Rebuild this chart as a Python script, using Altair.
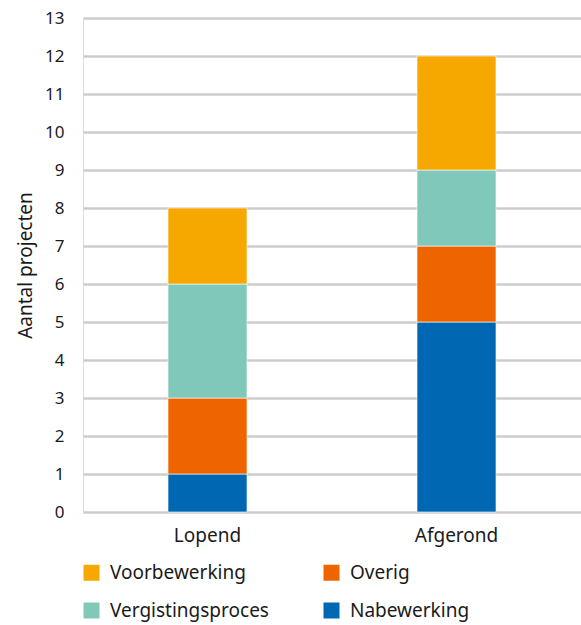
import altair as alt
import pandas as pd

# Project counts per phase, split by process step
statuses = ["Lopend", "Afgerond"]
steps = ["Nabewerking", "Overig", "Vergistingsproces", "Voorbewerking"]
lopend = [1, 2, 3, 2]
afgerond = [5, 2, 2, 3]

# Legend entries fill column by column
legend_order = ["Voorbewerking", "Vergistingsproces", "Overig", "Nabewerking"]
colors = {
    "Voorbewerking": "#F7A800",
    "Overig": "#EE6500",
    "Vergistingsproces": "#7FC8BA",
    "Nabewerking": "#0067B2",
}

rows = []
for status, values in zip(statuses, [lopend, afgerond]):
    for i, (step, v) in enumerate(zip(steps, values)):
        rows.append({"status": status, "stap": step, "aantal": v, "volgorde": i})
df = pd.DataFrame(rows)

FONT = "Noto Sans"

chart = (
    alt.Chart(df)
    .mark_bar(size=79, stroke="white", strokeWidth=0.6)
    .encode(
        x=alt.X(
            "status:N",
            sort=statuses,
            scale=alt.Scale(paddingInner=0, paddingOuter=0),
            axis=alt.Axis(
                title=None,
                labelAngle=0,
                domain=False,
                ticks=False,
                labelPadding=14,
                labelFontSize=19,
                labelColor="#1a1a1a",
                labelFont=FONT,
            ),
        ),
        y=alt.Y(
            "sum(aantal):Q",
            stack="zero",
            scale=alt.Scale(domain=[0, 13], nice=False),
            axis=alt.Axis(
                title="Aantal projecten",
                values=list(range(0, 14)),
                domain=False,
                ticks=False,
                labelPadding=19,
                labelFontSize=17,
                labelColor="#1a1a1a",
                labelFont=FONT,
                titleFont=FONT,
                titleFontSize=19,
                titleFontWeight="normal",
                titleColor="#1a1a1a",
                titleX=-58,
                titleY=247,
                titleBaseline="middle",
                gridColor="#cccccc",
                gridWidth=2.5,
            ),
        ),
        color=alt.Color(
            "stap:N",
            sort=legend_order,
            scale=alt.Scale(
                domain=legend_order, range=[colors[s] for s in legend_order]
            ),
            legend=alt.Legend(
                title=None,
                orient="none",
                legendX=-1,
                legendY=545,
                columns=2,
                columnPadding=53,
                rowPadding=18,
                symbolType="square",
                symbolSize=256,
                symbolStrokeWidth=0,
                labelFontSize=19,
                labelFont=FONT,
                labelColor="#1a1a1a",
                labelOffset=9,
                labelLimit=300,
            ),
        ),
        order=alt.Order("volgorde:Q", sort="ascending"),
    )
    .properties(
        width=498,
        height=494,
        autosize=alt.AutoSizeParams(type="none"),
        padding={"left": 83, "top": 18, "right": 0, "bottom": 113},
    )
    .configure_view(stroke=None)
    .configure(background="white")
)

chart.save("out.html", embed_options={"renderer": "svg", "actions": False})
